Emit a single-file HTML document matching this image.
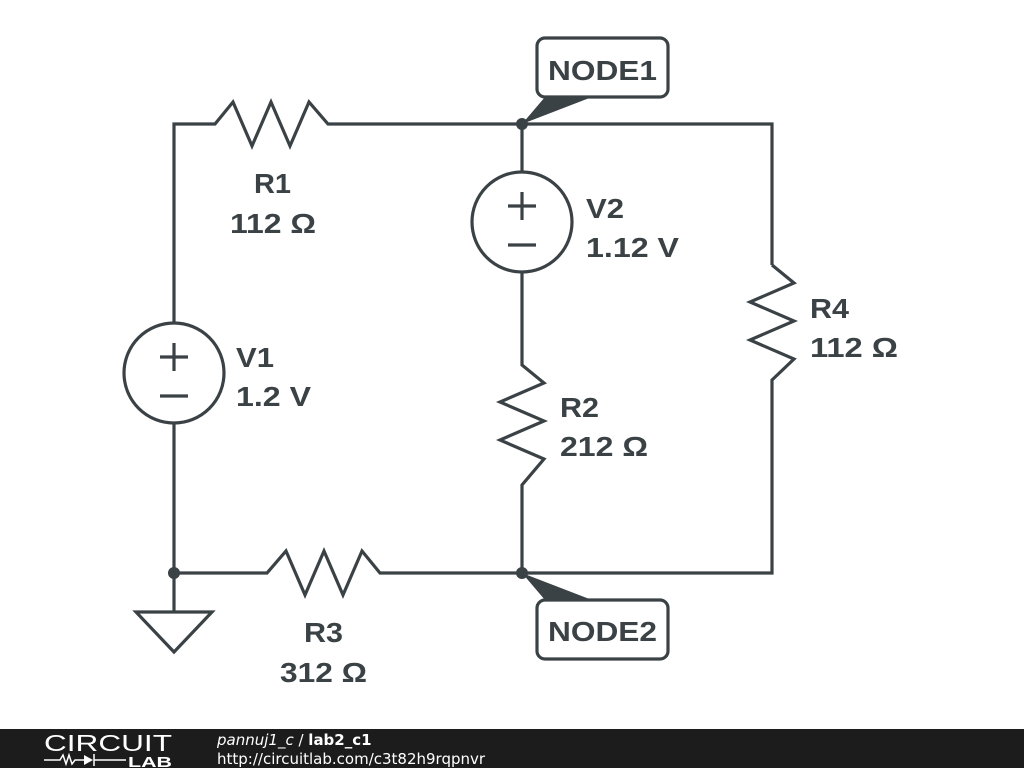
<!DOCTYPE html>
<html><head><style>
body{margin:0;width:1024px;height:768px;background:#fff;overflow:hidden;font-family:"Liberation Sans",sans-serif}
</style></head><body>
<svg width="1024" height="768" viewBox="0 0 1024 768" style="position:absolute;left:0;top:0">
<g stroke="#3b4246" stroke-width="3.2" fill="none" stroke-linejoin="miter">
<polyline points="174,323 174,124 215,124 233,102 252,146 271,102 290,146 309,102 328,124 772,124 772,265"/>
<polyline points="772,265 794,283 750,302 794,321 750,340 794,359 772,380 772,573 522,573"/>
<polyline points="522,573 380,573 362,551 343,595 324,551 305,595 286,551 267,573 174,573 174,423"/>
<polyline points="522,124 522,172"/>
<polyline points="522,272 522,365 544,383 500,402 544,421 500,440 544,459 522,485 522,573"/>
<circle cx="522" cy="222" r="50"/>
<circle cx="174" cy="373" r="50"/>
<polyline points="174,573 174,612"/>
<polygon points="136,612 212,612 174,652"/>
<path d="M508,206h28M522,192v28M508,245h28"/>
<path d="M160,357h28M174,343v28M160,396h28"/>
<rect x="537" y="38" width="131" height="59" rx="8"/>
<rect x="537" y="600" width="131" height="59" rx="8"/>
</g>
<g fill="#3b4246">
<circle cx="522" cy="124" r="6"/><circle cx="522" cy="573" r="6"/><circle cx="174" cy="573" r="6"/>
<polygon points="522,124 545,97 592,97"/>
<polygon points="522,573 545,600 592,600"/>
</g>
<g fill="#3b4246" font-family="Liberation Sans,sans-serif" font-weight="bold" font-size="28" lengthAdjust="spacingAndGlyphs">
<text x="548" y="80" textLength="109" lengthAdjust="spacingAndGlyphs">NODE1</text>
<text x="548" y="641" textLength="109" lengthAdjust="spacingAndGlyphs">NODE2</text>
<text x="254" y="193" textLength="37" lengthAdjust="spacingAndGlyphs">R1</text><text x="230" y="233" textLength="86" lengthAdjust="spacingAndGlyphs">112 Ω</text>
<text x="586" y="218" textLength="38" lengthAdjust="spacingAndGlyphs">V2</text><text x="586" y="257" textLength="93" lengthAdjust="spacingAndGlyphs">1.12 V</text>
<text x="236" y="367" textLength="38" lengthAdjust="spacingAndGlyphs">V1</text><text x="236" y="406" textLength="75" lengthAdjust="spacingAndGlyphs">1.2 V</text>
<text x="810" y="318" textLength="39" lengthAdjust="spacingAndGlyphs">R4</text><text x="810" y="357" textLength="88" lengthAdjust="spacingAndGlyphs">112 Ω</text>
<text x="560" y="417" textLength="39" lengthAdjust="spacingAndGlyphs">R2</text><text x="560" y="456" textLength="88" lengthAdjust="spacingAndGlyphs">212 Ω</text>
<text x="304" y="642" textLength="39" lengthAdjust="spacingAndGlyphs">R3</text><text x="280" y="682" textLength="87" lengthAdjust="spacingAndGlyphs">312 Ω</text>
</g>
<rect x="0" y="729" width="1024" height="39" fill="#1c1c1c"/>
<text x="44" y="751" fill="#fff" font-size="23" font-family="Liberation Sans,sans-serif" textLength="128" lengthAdjust="spacingAndGlyphs">CIRCUIT</text>
<polyline points="44,760 60,760 63,755 66,764 69,755 72,764 75,760 84,760" stroke="#fff" stroke-width="1.5" fill="none"/>
<polygon points="84,755 84,765 93,760" fill="#fff"/><path d="M94,754v12M94,760h32" stroke="#fff" stroke-width="1.5"/>
<text x="128" y="767" fill="#fff" font-size="15" font-weight="bold" font-family="Liberation Sans,sans-serif" textLength="44" lengthAdjust="spacingAndGlyphs">LAB</text>
<text x="217" y="745" fill="#fff" font-size="15" font-family="DejaVu Sans,sans-serif"><tspan font-style="italic">pannuj1_c</tspan> / <tspan font-weight="bold">lab2_c1</tspan></text>
<text x="217" y="764" fill="#fff" font-size="15" font-family="DejaVu Sans,sans-serif">http://circuitlab.com/c3t82h9rqpnvr</text>
</svg>
</body></html>
